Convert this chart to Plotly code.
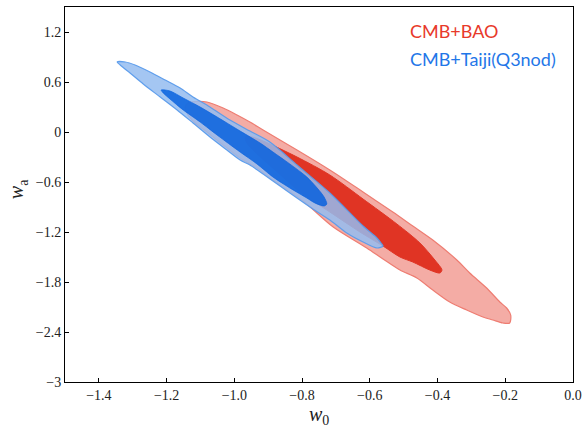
import plotly.graph_objects as go

# ---- data (w0, wa) contour outlines ----
bao_outer_w0 = [-1.145, -1.137, -1.116, -1.081, -1.033, -0.992, -0.954, -0.915, -0.815, -0.718,
                -0.620, -0.532, -0.473, -0.414, -0.343, -0.305, -0.255, -0.216, -0.196, -0.184,
                -0.187, -0.207, -0.237, -0.266, -0.314, -0.364, -0.414, -0.461, -0.511, -0.561,
                -0.609, -0.708, -0.797, -0.886, -0.933, -0.983, -1.033, -1.081, -1.125, -1.142]
bao_outer_wa = [0.300, 0.348, 0.366, 0.360, 0.288, 0.204, 0.120, 0.024, -0.216, -0.456,
                -0.720, -0.960, -1.128, -1.296, -1.536, -1.692, -1.872, -2.040, -2.112, -2.196,
                -2.292, -2.292, -2.256, -2.220, -2.136, -2.040, -1.896, -1.752, -1.656, -1.524,
                -1.392, -1.140, -0.828, -0.576, -0.432, -0.312, -0.156, 0.000, 0.144, 0.240]

bao_inner_w0 = [-0.968, -0.948, -0.915, -0.815, -0.718, -0.620, -0.520, -0.452, -0.408, -0.387,
                -0.393, -0.423, -0.473, -0.511, -0.561, -0.629, -0.718, -0.806, -0.880, -0.939, -0.963]
bao_inner_wa = [-0.060, -0.060, -0.108, -0.300, -0.516, -0.804, -1.104, -1.332, -1.536, -1.656,
                -1.692, -1.656, -1.560, -1.500, -1.368, -1.200, -0.960, -0.720, -0.456, -0.240, -0.132]

taiji_outer_w0 = [-1.346, -1.322, -1.293, -1.249, -1.204, -1.160, -1.122, -1.072, -1.013, -0.954,
                  -0.895, -0.815, -0.718, -0.620, -0.579, -0.567, -0.561,
                  -0.579, -0.620, -0.668, -0.718, -0.768, -0.815, -0.865, -0.915, -0.954, -0.983,
                  -1.022, -1.072, -1.122, -1.169, -1.219, -1.269, -1.308, -1.337]
taiji_outer_wa = [0.840, 0.840, 0.804, 0.720, 0.624, 0.528, 0.420, 0.300, 0.144, 0.012,
                  -0.120, -0.396, -0.732, -1.128, -1.272, -1.332, -1.368,
                  -1.392, -1.320, -1.212, -1.056, -0.924, -0.792, -0.648, -0.504, -0.396, -0.336,
                  -0.216, -0.060, 0.108, 0.264, 0.420, 0.576, 0.708, 0.804]

taiji_inner_w0 = [-1.216, -1.190, -1.151, -1.101, -1.051, -0.983, -0.924, -0.886, -0.836, -0.786,
                  -0.753, -0.735, -0.727, -0.735, -0.762, -0.786, -0.836, -0.886, -0.933, -0.983,
                  -1.051, -1.101, -1.151, -1.190, -1.210]
taiji_inner_wa = [0.504, 0.492, 0.408, 0.300, 0.180, 0.012, -0.132, -0.240, -0.384, -0.540,
                  -0.684, -0.780, -0.864, -0.888, -0.852, -0.792, -0.672, -0.540, -0.384, -0.240,
                  -0.036, 0.120, 0.264, 0.396, 0.468]

x_tickvals = [-1.4, -1.2, -1.0, -0.8, -0.6, -0.4, -0.2, 0.0]
x_ticktext = ["\u22121.4", "\u22121.2", "\u22121.0", "\u22120.8", "\u22120.6", "\u22120.4", "\u22120.2", "0.0"]
y_tickvals = [1.2, 0.6, 0, -0.6, -1.2, -1.8, -2.4, -3]
y_ticktext = ["1.2", "0.6", "0", "\u22120.6", "\u22121.2", "\u22121.8", "\u22122.4", "\u22123"]

labels = ["CMB+BAO", "CMB+Taiji(Q3nod)"]
x_title = "<i>w</i><sub>0</sub>"
y_title = "<i>w</i><sub>a</sub>"


def closed(a):
    return list(a) + [a[0]]


fig = go.Figure()

fig.add_trace(go.Scatter(x=closed(bao_outer_w0), y=closed(bao_outer_wa), mode="lines",
                         fill="toself", fillcolor="#f4aca5",
                         line=dict(color="#ee7d72", width=1.2, shape="spline", smoothing=0.8),
                         hoverinfo="skip", showlegend=False))
fig.add_trace(go.Scatter(x=closed(bao_inner_w0), y=closed(bao_inner_wa), mode="lines",
                         fill="toself", fillcolor="#e03424",
                         line=dict(color="#e03424", width=1, shape="spline", smoothing=0.8),
                         hoverinfo="skip", showlegend=False))
fig.add_trace(go.Scatter(x=closed(taiji_outer_w0), y=closed(taiji_outer_wa), mode="lines",
                         fill="toself", fillcolor="rgba(148,188,240,0.85)",
                         line=dict(color="rgba(90,155,235,0.95)", width=1.2, shape="spline", smoothing=0.8),
                         hoverinfo="skip", showlegend=False))
fig.add_trace(go.Scatter(x=closed(taiji_inner_w0), y=closed(taiji_inner_wa), mode="lines",
                         fill="toself", fillcolor="rgba(8,98,222,0.85)",
                         line=dict(color="rgba(8,98,222,0.85)", width=0.8, shape="spline", smoothing=0.8),
                         hoverinfo="skip", showlegend=False))

tickfont = dict(family="Liberation Serif, DejaVu Serif, serif", size=14, color="#222")
fig.update_xaxes(range=[-1.5, 0.0], tickvals=x_tickvals, ticktext=x_ticktext, automargin=False,
                 ticks="inside", ticklen=4, tickcolor="black", showgrid=False, zeroline=False,
                 showline=True, linecolor="black", linewidth=1, mirror=True, tickfont=tickfont)
fig.update_yaxes(range=[-3.0, 1.5], tickvals=y_tickvals, ticktext=y_ticktext, automargin=False,
                 ticks="inside", ticklen=4, tickcolor="black", showgrid=False, zeroline=False,
                 showline=True, linecolor="black", linewidth=1, mirror=True, tickfont=tickfont)

titlefont = dict(family="Liberation Serif, DejaVu Serif, serif", size=20, color="#222")
fig.add_annotation(x=0.5, y=-0.09, xref="x domain", yref="y domain", text=x_title,
                   showarrow=False, xanchor="center", yanchor="middle", font=titlefont)
fig.add_annotation(x=-0.092, y=0.515, xref="x domain", yref="y domain", text=y_title,
                   showarrow=False, xanchor="center", yanchor="middle", textangle=-90, font=titlefont)

legfont = "Lato, Noto Sans, sans-serif"
fig.add_annotation(x=0.675, y=0.936, xref="x domain", yref="y domain", text=labels[0],
                   showarrow=False, xanchor="left", yanchor="middle",
                   font=dict(family=legfont, size=18, color="#e8392a"))
fig.add_annotation(x=0.675, y=0.861, xref="x domain", yref="y domain", text=labels[1],
                   showarrow=False, xanchor="left", yanchor="middle",
                   font=dict(family=legfont, size=18, color="#1f77e8"))

fig.update_layout(width=582, height=427, margin=dict(l=65, r=9, t=7, b=45),
                  plot_bgcolor="white", paper_bgcolor="white")

fig.write_html("out.html", config={"displayModeBar": False},
               post_script="document.body.style.margin='0px';")
